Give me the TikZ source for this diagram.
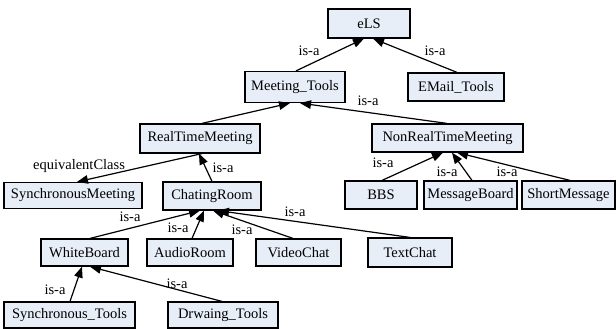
\documentclass[tikz,border=0pt]{standalone}
\usepackage{fontspec}
\setmainfont{Liberation Serif}
\usetikzlibrary{arrows.meta}
\definecolor{boxfill}{HTML}{E8EEF8}
\tikzset{
  cls/.style={draw=black, fill=boxfill, line width=1.2pt, inner sep=0pt, minimum height=28pt, font=\rmfamily\fontsize{14.5}{16}\selectfont},
  lbl/.style={inner sep=0pt, font=\rmfamily\fontsize{14.5}{16}\selectfont},
  isa/.style={draw=black, line width=1.2pt, -{Triangle[length=11pt,width=8.5pt]}}
}
\begin{document}
\begin{tikzpicture}[x=1pt,y=-1pt]
\useasboundingbox (0,0) rectangle (616,329);
% nodes
\node[cls, minimum width=82pt, minimum height=29pt] (eLS) at (369,23.5) {eLS};
\node[cls, minimum width=100pt, minimum height=31pt] (MT) at (295,87) {Meeting\_Tools};
\node[cls, minimum width=96pt] (EM) at (456,87) {EMail\_Tools};
\node[cls, minimum width=120pt, minimum height=29pt] (RTM) at (200,138.5) {RealTimeMeeting};
\node[cls, minimum width=151pt] (NRTM) at (447.5,138) {NonRealTimeMeeting};
\node[cls, minimum width=138pt, minimum height=26pt] (SM) at (73,195.5) {SynchronousMeeting};
\node[cls, minimum width=98pt] (CR) at (212,196) {ChatingRoom};
\node[cls, minimum width=72pt] (BBS) at (381,195) {BBS};
\node[cls, minimum width=93pt] (MB) at (470.5,195) {MessageBoard};
\node[cls, minimum width=93pt] (SMsg) at (568.5,195) {ShortMessage};
\node[cls, minimum width=87pt, minimum height=27pt] (WB) at (84.5,252.5) {WhiteBoard};
\node[cls, minimum width=86pt, minimum height=27pt] (AR) at (190,252.5) {AudioRoom};
\node[cls, minimum width=85pt, minimum height=27pt] (VC) at (298.5,252.5) {VideoChat};
\node[cls, minimum width=84pt, minimum height=29pt] (TC) at (410,252.5) {TextChat};
\node[cls, minimum width=131pt, minimum height=26pt] (ST) at (69.5,315) {Synchronous\_Tools};
\node[cls, minimum width=110pt, minimum height=26pt] (DT) at (223,315) {Drwaing\_Tools};
% edges
\draw[isa] ([xshift=1pt]MT.north) -- ([xshift=-5pt]eLS.south);
\draw[isa] ([xshift=1pt]EM.north) -- ([xshift=4pt]eLS.south);
\draw[isa] ([xshift=2pt]RTM.north) -- ([xshift=-5pt]MT.south);
\draw[isa] ([xshift=-0.5pt]NRTM.north) -- ([xshift=5pt]MT.south);
\draw[isa] ([xshift=2pt]RTM.south) -- ([xshift=4pt]SM.north);
\draw[isa] (CR.north) -- ([xshift=-1pt]RTM.south);
\draw[isa] ([xshift=1pt]BBS.north) -- ([xshift=-4.5pt]NRTM.south);
\draw[isa] ([xshift=1.5pt]MB.north) -- ([xshift=4.5pt]NRTM.south);
\draw[isa] ([xshift=1.5pt]SMsg.north) -- ([xshift=9.5pt]NRTM.south);
\draw[isa] ([xshift=5.5pt]WB.north) -- ([xshift=-12pt]CR.south);
\draw[isa] ([xshift=2pt]AR.north) -- ([xshift=-8pt]CR.south);
\draw[isa] ([xshift=-5.5pt]VC.north) -- ([xshift=1pt]CR.south);
\draw[isa] (TC.north) -- ([xshift=6pt]CR.south);
\draw[isa] ([xshift=0.5pt]ST.north) -- ([xshift=-2.5pt]WB.south);
\draw[isa] ([xshift=-1pt]DT.north) -- ([xshift=5.5pt]WB.south);
% labels
\node[lbl] (l1) at (309,51) {is-a};
\node[lbl] (l2) at (435,51) {is-a};
\node[lbl] (l3) at (368,101) {is-a};
\node[lbl] (l4) at (79,166) {equivalentClass};
\node[lbl] (l5) at (223,168) {is-a};
\node[lbl] (l6) at (383,163) {is-a};
\node[lbl] (l7) at (447,172) {is-a};
\node[lbl] (l8) at (507,172) {is-a};
\node[lbl] (l9) at (130,217) {is-a};
\node[lbl] (l10) at (178,228) {is-a};
\node[lbl] (l11) at (242,230) {is-a};
\node[lbl] (l12) at (295,212) {is-a};
\node[lbl] (l13) at (55,290) {is-a};
\node[lbl] (l14) at (177,284) {is-a};
\end{tikzpicture}
\end{document}
